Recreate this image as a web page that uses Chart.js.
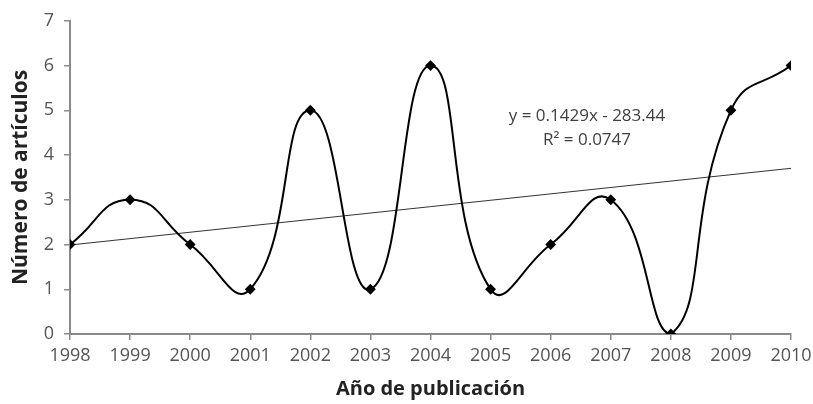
<!DOCTYPE html>
<html>
<head>
<meta charset="utf-8">
<script src="https://cdn.jsdelivr.net/npm/chart.js@4/dist/chart.umd.min.js"></script>
<style>
  html,body{margin:0;padding:0;background:#fff;}
  #wrap{width:813px;height:404px;}
</style>
</head>
<body>
<div id="wrap"><canvas id="c" width="813" height="404"></canvas></div>
<script>
// values
const years = [1998,1999,2000,2001,2002,2003,2004,2005,2006,2007,2008,2009,2010];
const articles = [2,3,2,1,5,1,6,1,2,3,0,5,6];
const yTicks = [0,1,2,3,4,5,6,7];
const trendText = ['y = 0.1429x - 283.44', 'R\u00b2 = 0.0747'];

// least squares line from the data (matches the printed equation)
function linFit(xs, ys){
  const n = xs.length;
  const mx = xs.reduce((s,v)=>s+v,0)/n;
  const my = ys.reduce((s,v)=>s+v,0)/n;
  let num=0, den=0;
  xs.forEach((x,i)=>{ num += (x-mx)*(ys[i]-my); den += (x-mx)*(x-mx); });
  const b = num/den;
  return { b, a: my - b*mx };
}
const fit = linFit(years, articles);
const trendPts = [years[0], years[years.length-1]].map(x=>({x, y: fit.a + fit.b*x}));

const axisColor = '#8a8a8a';
const FONT = '"Open Sans", "Liberation Sans", sans-serif';
const tickFont = { family: FONT, size: 18 };

const trendLabel = {
  id: 'trendLabel',
  afterDraw(chart){
    const {ctx} = chart;
    ctx.save();
    ctx.fillStyle = '#404040';
    ctx.font = '17px ' + FONT;
    ctx.textAlign = 'center';
    ctx.textBaseline = 'middle';
    ctx.fillText(trendText[0], 587, 116);
    ctx.fillText(trendText[1], 587, 140);
    ctx.restore();
  }
};

new Chart(document.getElementById('c'), {
  type: 'line',
  data: {
    datasets: [{
      label: 'Artículos',
      data: years.map((x,i)=>({x, y: articles[i]})),
      borderColor: '#000',
      borderWidth: 2,
      tension: 0.5,
      pointStyle: 'rectRot',
      pointRadius: 4,
      pointBackgroundColor: '#000',
      pointBorderColor: '#000',
      fill: false,
      order: 1
    },{
      label: 'Tendencia',
      data: trendPts,
      borderColor: '#333',
      borderWidth: 1,
      pointRadius: 0,
      tension: 0,
      fill: false,
      order: 2
    }]
  },
  options: {
    responsive: false,
    animation: false,
    layout: { padding: { top: 20, right: 22, left: 0, bottom: 0 } },
    plugins: { legend: { display: false }, tooltip: { enabled: false } },
    scales: {
      x: {
        type: 'linear',
        min: 1998, max: 2010,
        // the 2010 label is allowed to run off the right edge, as in the original
        afterFit(s){ s.height = 70; s.paddingLeft = 0; s.paddingRight = 0; },
        ticks: { stepSize: 1, color: '#555', font: tickFont, padding: 5, maxRotation: 0,
          autoSkip: false, callback: v => String(v) },
        grid: { drawOnChartArea: false, color: axisColor, tickLength: 6, lineWidth: 1.5 },
        border: { color: axisColor, width: 2 },
        title: { display: true, text: 'Año de publicación', color: '#222',
          font: { family: FONT, size: 20, weight: 'bold' },
          padding: { top: 4, bottom: 3 } }
      },
      y: {
        min: 0, max: 7,
        afterFit(s){ s.width = 70; },
        afterBuildTicks(s){ s.ticks = yTicks.map(v=>({value:v})); },
        ticks: { color: '#555', font: tickFont, padding: 10 },
        grid: { drawOnChartArea: false, color: axisColor, tickLength: 6, lineWidth: 1.5 },
        border: { color: axisColor, width: 2 },
        title: { display: true, text: 'Número de artículos', color: '#222',
          font: { family: FONT, size: 21, weight: 'bold' },
          padding: { top: 8, bottom: 4 } }
      }
    }
  },
  plugins: [trendLabel]
});
</script>
</body>
</html>
